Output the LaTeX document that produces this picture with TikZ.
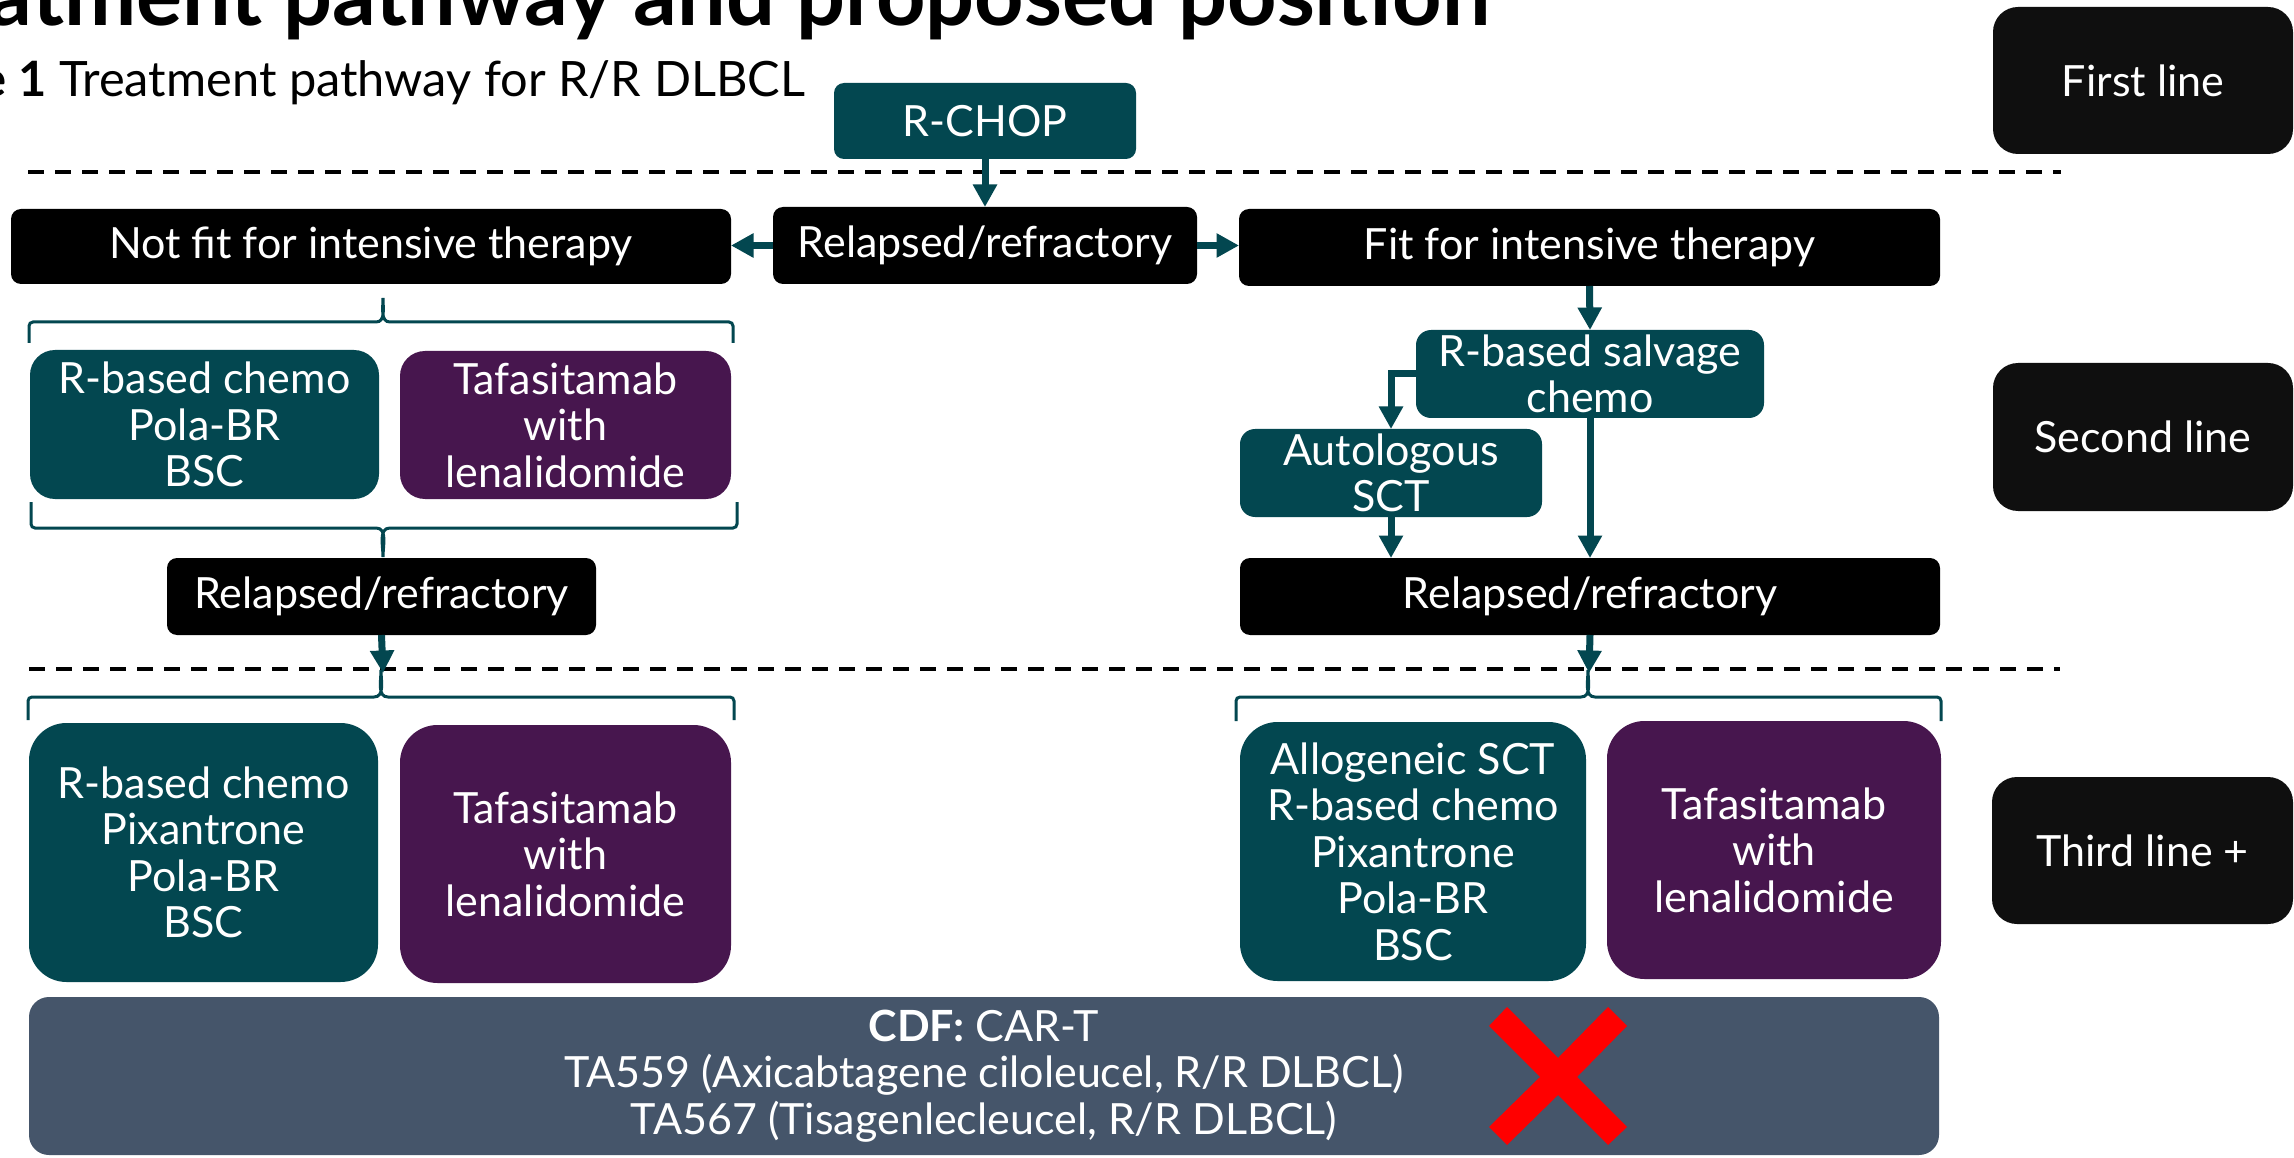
\documentclass[tikz,border=0pt]{standalone}
\usepackage{fontspec}
\setmainfont{Lato}
\usetikzlibrary{arrows.meta}
\definecolor{tealc}{HTML}{034750}
\definecolor{purp}{HTML}{47164E}
\definecolor{slate}{HTML}{45556A}
\definecolor{lab}{HTML}{0F0F0F}
\newcommand\bx[7]{%
  \node[#1, minimum width={(#5-#3)*0.4pt}, minimum height={(#6-#4)*0.4pt}] (#2) at ({(#3+#5)/2},{(#4+#6)/2}) {#7};}
\newcommand\overbr[6]{% x1 x2 xc yh yend ytip
  \draw[brc] ({#1},{#5}) -- ({#1},{#4+4}) to[out=90,in=180] ({#1+4},{#4}) -- ({#3-7},{#4})
    to[out=0,in=-90] ({#3},{#6}) to[out=-90,in=180] ({#3+7},{#4}) -- ({#2-4},{#4})
    to[out=0,in=90] ({#2},{#4+4}) -- ({#2},{#5});}
\newcommand\underbr[6]{%
  \draw[brc] ({#1},{#5}) -- ({#1},{#4-4}) to[out=-90,in=180] ({#1+4},{#4}) -- ({#3-7},{#4})
    to[out=0,in=90] ({#3},{#6}) to[out=90,in=180] ({#3+7},{#4}) -- ({#2-4},{#4})
    to[out=0,in=-90] ({#2},{#4-4}) -- ({#2},{#5});}
\begin{document}
\begin{tikzpicture}[x=0.4pt,y=-0.4pt,
  every node/.style={inner sep=0pt, outer sep=0pt, align=center, text=white,
    font=\fontsize{17.2pt}{18.6pt}\selectfont},
  hdr/.style={fill=black, rounded corners=4pt},
  tbox/.style={fill=tealc, rounded corners=#1},
  pbox/.style={fill=purp, rounded corners=#1},
  labbox/.style={fill=lab, rounded corners=10pt},
  arr/.style={draw=tealc, line width=2.8pt, -{Triangle[width=9.2pt,length=9pt]}},
  brc/.style={draw=tealc, line width=1.2pt},
  dashline/.style={draw=black, line width=1.6pt, dash pattern=on 6.4pt off 4.4pt}]
\useasboundingbox (0,0) rectangle (2294,1158);
\clip (0,0) rectangle (2294,1158);
\fill[white] (0,0) rectangle (2294,1158);

% titles
\node[anchor=base east, text=black, font=\bfseries\fontsize{34.5pt}{40pt}\selectfont] (title) at (1490,26) {Treatment pathway and proposed position};
\node[anchor=base east, text=black, font=\fontsize{19.5pt}{23pt}\selectfont] (sub) at (805,97) {\textbf{Figure 1} Treatment pathway for R/R DLBCL};

% side labels
\bx{labbox}{l1}{1993}{7}{2293}{154}{First line}
\bx{labbox}{l2}{1993}{363}{2293}{511}{Second line}
\bx{labbox}{l3}{1992}{777}{2293}{924}{Third line +}

% dashed separators
\draw[dashline] (28,172) coordinate (d1a) -- (2061,172) coordinate (d1b);
\draw[dashline] (29,669) coordinate (d2a) -- (2060,669) coordinate (d2b);

% first line
\bx{tbox=4pt}{rchop}{834}{83}{1136}{159}{R-CHOP}
\bx{hdr}{rc}{773}{207}{1197}{284}{Relapsed/refractory}
\bx{hdr}{nf}{11}{209}{731}{284}{Not fit for intensive therapy}
\bx{hdr}{fit}{1239}{209}{1940}{286}{Fit for intensive therapy}
\draw[arr] (rchop.south) -- (rc.north);
\draw[arr] (rc.west) -- (rc.west -| nf.east);
\draw[arr] (rc.east) -- (rc.east -| fit.west);

% left second line
\overbr{29}{733}{383}{322}{343}{298}
\bx{tbox=10pt}{lch}{30}{350}{379}{499}{R-based chemo\\Pola-BR\\BSC}
\bx{pbox=10pt}{ltaf}{400}{351}{731}{499}{Tafasitamab\\with\\lenalidomide}
\underbr{31}{737}{383}{528}{502}{557}
\bx{hdr}{rl}{167}{558}{596}{635}{Relapsed/refractory}
\coordinate (tl) at (383,673);
\draw[arr] (rl.south) -- (tl);

% right second line
\bx{tbox=6pt}{sal}{1416}{330}{1764}{418}{R-based salvage\\chemo}
\bx{tbox=6pt}{auto}{1240}{429}{1542}{517}{Autologous\\SCT}
\bx{hdr}{rr}{1240}{558}{1940}{635}{Relapsed/refractory}
\draw[arr] (fit.south) -- (sal.north);
\draw[arr] (sal.west) -| (auto.north);
\draw[arr] (auto.south) -- (auto.south |- rr.north);
\draw[arr] (sal.south) -- (sal.south |- rr.north);
\coordinate (tr) at (1589,673);
\draw[arr] (rr.south) -- (tr);

% third line left
\overbr{28}{734}{381}{697}{720}{670}
\bx{tbox=15pt}{l3ch}{29}{723}{378}{982}{R-based chemo\\Pixantrone\\Pola-BR\\BSC}
\bx{pbox=15pt}{l3taf}{400}{725}{731}{983}{Tafasitamab\\with\\lenalidomide}

% third line right
\overbr{1236}{1941}{1588}{697}{721}{670}
\bx{tbox=15pt}{r3ch}{1240}{722}{1586}{981}{Allogeneic SCT\\R-based chemo\\Pixantrone\\Pola-BR\\BSC}
\bx{pbox=15pt}{r3taf}{1607}{721}{1941}{979}{Tafasitamab\\with\\lenalidomide}

% CDF
\bx{fill=slate, rounded corners=8pt}{cdf}{29}{997}{1939}{1155}{\textbf{CDF:} CAR-T\\TA559 (Axicabtagene ciloleucel, R/R DLBCL)\\TA567 (Tisagenlecleucel, R/R DLBCL)}
\fill[red] (1507,1007) -- (1558,1058) -- (1608,1007) -- (1627,1026) -- (1577,1077) -- (1627,1127)
  -- (1608,1145) -- (1558,1095) -- (1507,1145) -- (1489,1127) -- (1540,1077) -- (1489,1026) -- cycle;
\end{tikzpicture}
\end{document}
